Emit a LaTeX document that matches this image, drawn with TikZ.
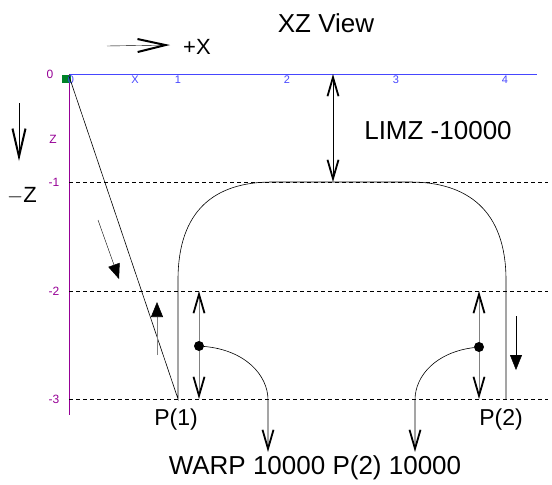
\documentclass[tikz,border=0pt]{standalone}
\usepackage{fontspec}
\setmainfont{Liberation Sans}
\usetikzlibrary{arrows.meta}
\definecolor{axisblue}{RGB}{70,70,255}
\definecolor{axispurple}{RGB}{150,0,150}
\definecolor{markgreen}{RGB}{0,130,40}

\begin{document}
\begin{tikzpicture}[x=1pt, y=-1pt,
    bigtext/.style={font=\fontsize{26}{26}\selectfont, inner sep=0pt},
    midtext/.style={font=\fontsize{23}{23}\selectfont, inner sep=0pt},
    xtick/.style={font=\fontsize{11}{11}\selectfont, text=axisblue, inner sep=0pt},
    ztick/.style={font=\fontsize{12}{12}\selectfont, text=axispurple, inner sep=0pt},
    zlevel/.style={thin, dash pattern=on 4pt off 3pt},
    vee/.tip={Straight Barb[length=19pt,width=11pt,line width=1.8pt,color=black]},
    bigvee/.tip={Straight Barb[length=28pt,width=13pt,line width=2pt,color=black]},
    tri/.tip={Triangle[length=15pt,width=12pt,color=black]},
    toolpath/.style={semithick}
]
\useasboundingbox (0,0) rectangle (552,485);

% ============================
% Axes
% ============================
\coordinate (o)  at (69,74);
\coordinate (xe) at (537,74);
\coordinate (ze) at (69,415);
\draw[axisblue, semithick] (o) -- (xe);
\draw[axispurple, semithick] (o) -- (ze);
\fill[markgreen] (62,75) rectangle (71,83);
% X ticks
\node[xtick] (x0) at (71,80)  {0};
\node[xtick] (xx) at (135,80) {X};
\node[xtick] (x1) at (178,80) {1};
\node[xtick] (x2) at (287,80) {2};
\node[xtick] (x3) at (396,80) {3};
\node[xtick] (x4) at (505,80) {4};
% Z ticks
\node[ztick] (z0) at (50,74)  {0};
\node[ztick] (zz) at (53,139) {Z};
\node[ztick] (z1) at (54,182) {-1};
\node[ztick] (z2) at (54,291) {-2};
\node[ztick] (z3) at (54,399) {-3};
% Levels
\coordinate (l1a) at (69,182);  \coordinate (l1b) at (548,182);
\coordinate (l2a) at (69,291);  \coordinate (l2b) at (548,291);
\coordinate (l3a) at (69,399);  \coordinate (l3b) at (548,399);
\draw[zlevel] (l1a) -- (l1b);
\draw[zlevel] (l2a) -- (l2b);
\draw[zlevel] (l3a) -- (l3b);

% ============================
% Titles and directions
% ============================
\node[bigtext] (title) at (326,23) {XZ View};
\node[font=\fontsize{22}{22}\selectfont, inner sep=0pt] (plusx) at (197,47) {+X};
\coordinate (xa) at (107,46);
\coordinate (xb) at (170,45);
\draw[-bigvee] (xa) -- (xb);
\coordinate (za) at (19,103);
\coordinate (zb) at (19,161);
\draw[-bigvee] (za) -- (zb);
\node[font=\fontsize{22}{22}\selectfont, inner sep=0pt] (minusz) at (22,196) {$-$Z};

% ============================
% LIMZ
% ============================
\coordinate (la) at (333,74);
\coordinate (lb) at (333,182);
\draw[semithick, vee-vee] (la) -- (lb);
\node[bigtext] (limz) at (438,131) {LIMZ -10000};

% ============================
% Tool path
% ============================
\coordinate (start) at (69,76);
\coordinate (p1) at (178,399);
\coordinate (p2) at (506,399);
\draw[toolpath] (start) -- (p1) -- (178,280)
    .. controls (178,210) and (215,182) .. (272,182) -- (410,182)
    .. controls (467,182) and (506,210) .. (506,280) -- (p2);
\draw[-tri] (98,220) -- (119,279);
\draw[gray, semithick, -tri] (157,355) -- (157,302);
\draw[-tri] (516,316) -- (516,370);
\node[midtext] (lp1) at (176,420) {P(1)};
\node[midtext] (lp2) at (501,420) {P(2)};

% ============================
% WARP
% ============================
\coordinate (w1a) at (199,291);
\coordinate (w1b) at (199,399);
\coordinate (w2a) at (479,291);
\coordinate (w2b) at (479,399);
\draw[gray, semithick, vee-vee] (w1a) -- (w1b);
\draw[gray, semithick, vee-vee] (w2a) -- (w2b);
\node[circle, fill, inner sep=0pt, minimum size=10pt] (d1) at (199,346) {};
\node[circle, fill, inner sep=0pt, minimum size=10pt] (d2) at (479,347) {};
\coordinate (e1) at (268,452);
\coordinate (e2) at (415,452);
\draw[semithick, -vee] (d1) .. controls (245,350) and (268,375) .. (268,400) -- (e1);
\draw[semithick, -vee] (d2) .. controls (437,352) and (415,375) .. (415,400) -- (e2);
\node[bigtext] (warp) at (315,468) {WARP 10000 P(2) 10000};

\end{tikzpicture}
\end{document}
